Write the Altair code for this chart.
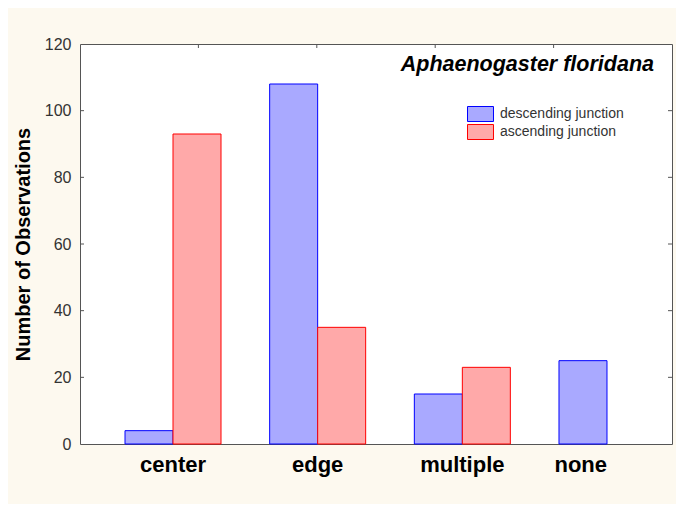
import altair as alt
import pandas as pd

categories = ["center", "edge", "multiple", "none"]
series = ["descending junction", "ascending junction"]
descending = [4, 108, 15, 25]
ascending = [93, 35, 23, None]
y_ticks = [0, 20, 40, 60, 80, 100, 120]
inner_ticks = [20, 40, 60, 80, 100]
top_ticks = [1, 2, 3, 4]

rows = []
for c, d, a in zip(categories, descending, ascending):
    if d is not None:
        rows.append({"cat": c, "series": series[0], "value": d})
    if a is not None:
        rows.append({"cat": c, "series": series[1], "value": a})
df = pd.DataFrame(rows)

W, H = 592, 400
FONT = "Liberation Sans, Arial, Helvetica, sans-serif"
BORDER = "#555555"

y_scale = alt.Scale(domain=[0, 120], nice=False)
fill_scale = alt.Scale(domain=series, range=["#a9a9ff", "#ffa9a9"])
stroke_scale = alt.Scale(domain=series, range=["#0000ff", "#ff0000"])

legend = alt.Legend(
    title=None,
    orient="none",
    legendX=392.5,
    legendY=62,
    padding=0,
    symbolType="M-1.733,-1L1.733,-1L1.733,1L-1.733,1Z",
    symbolSize=225,
    symbolStrokeWidth=1,
    rowPadding=-4,
    labelOffset=11.5,
    labelFontSize=14,
    labelFont=FONT,
    labelColor="#333333",
)

bars = alt.Chart(df).mark_bar(strokeWidth=1).encode(
    x=alt.X(
        "cat:N",
        sort=categories,
        scale=alt.Scale(domain=categories, range=[45, 575], paddingInner=0.3364, paddingOuter=0),
        axis=alt.Axis(
            title=None,
            ticks=False,
            tickSize=0,
            domain=False,
            labelAngle=0,
            labelPadding=27,
            labelBaseline="alphabetic",
            labelFontSize=22,
            labelFontWeight="bold",
            labelFont=FONT,
            labelColor="black",
            labelAlign={"condition": {"test": "datum.value == 'none'", "value": "right"}, "value": "center"},
        ),
    ),
    xOffset=alt.XOffset("series:N", sort=series,
                        scale=alt.Scale(domain=series, paddingInner=0, paddingOuter=0)),
    y=alt.Y(
        "value:Q",
        scale=y_scale,
        axis=alt.Axis(
            title="Number of Observations",
            values=y_ticks,
            ticks=False,
            tickSize=0,
            domain=False,
            grid=False,
            labelPadding=9,
            labelFontSize=16,
            labelFont=FONT,
            labelColor="#333333",
            titleFontSize=20,
            titleFontWeight="bold",
            titleFont=FONT,
            titleColor="black",
            titlePadding=11,
        ),
    ),
    fill=alt.Fill("series:N", sort=series, scale=fill_scale, legend=legend),
    stroke=alt.Stroke("series:N", sort=series, scale=stroke_scale, legend=legend),
)

tick_df = pd.DataFrame({"value": inner_ticks})
left_ticks = alt.Chart(tick_df).mark_rule(color=BORDER, strokeWidth=1).encode(
    y=alt.Y("value:Q", scale=y_scale), x=alt.value(0), x2=alt.value(4)
)
right_ticks = alt.Chart(tick_df).mark_rule(color=BORDER, strokeWidth=1).encode(
    y=alt.Y("value:Q", scale=y_scale), x=alt.value(W - 4), x2=alt.value(W)
)
top = alt.Chart(pd.DataFrame({"k": top_ticks})).mark_rule(color=BORDER, strokeWidth=1).encode(
    x=alt.X("k:Q", scale=alt.Scale(domain=[0, 5], nice=False), axis=None),
    y=alt.value(0),
    y2=alt.value(4),
)

chart = (
    alt.layer(bars, left_ticks, right_ticks, top)
    .resolve_scale(x="independent")
    .properties(
        width=W,
        height=H,
        autosize=alt.AutoSizeParams(type="none"),
        padding={"left": 72, "top": 36, "right": 4, "bottom": 60},
        background="#fdf9ef",
        title=alt.TitleParams(
            "Aphaenogaster floridana",
            anchor="end",
            frame="group",
            orient="top",
            baseline="alphabetic",
            offset=0,
            dy=56,
            dx=-18,
            fontSize=21.5,
            fontStyle="italic",
            fontWeight="bold",
            font=FONT,
            color="black",
        ),
    )
    .configure_view(stroke=BORDER, strokeWidth=1, fill="white")
)

chart.save("out.html", embed_options={"renderer": "svg", "actions": False})
